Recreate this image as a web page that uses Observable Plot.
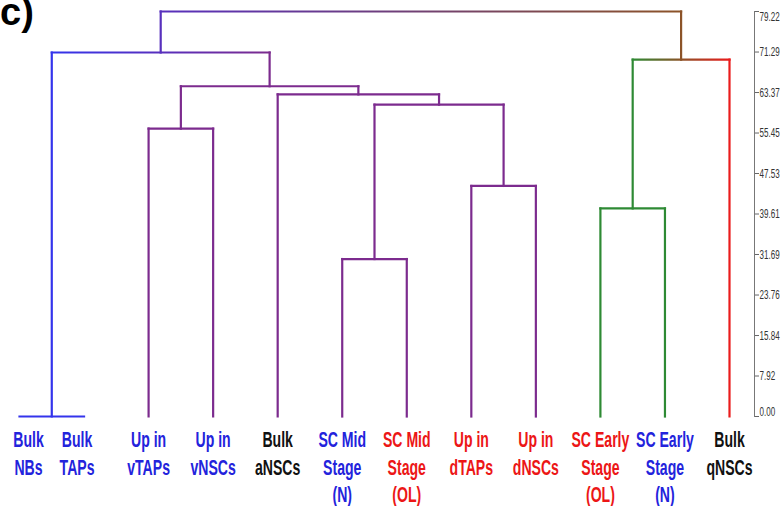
<!DOCTYPE html>
<html><head><meta charset="utf-8">
<script src="https://cdn.jsdelivr.net/npm/d3@7"></script>
<script src="https://cdn.jsdelivr.net/npm/@observablehq/plot@0.6"></script>
<style>
body{margin:0;background:#fff;}
#wrap{position:relative;width:781px;height:506px;overflow:hidden;}
#tag{position:absolute;left:0px;top:-7px;font:bold 38px "Liberation Sans", Arial, sans-serif;line-height:38px;color:#000;}
</style></head><body><div id="wrap"><div id="tag">c)</div></div>
<script>
// ---- data ----
const leafNames = ["Bulk\nNBs","Bulk\nTAPs","Up in\nvTAPs","Up in\nvNSCs","Bulk\naNSCs","SC Mid\nStage\n(N)","SC Mid\nStage\n(OL)","Up in\ndTAPs","Up in\ndNSCs","SC Early\nStage\n(OL)","SC Early\nStage\n(N)","Bulk\nqNSCs"];
const labelGroup = ["N","N","N","N","bulk","N","OL","OL","OL","OL","N","bulk"];
const leafCluster = ["blue","blue","purple","purple","purple","purple","purple","purple","purple","green","green","red"];
// merges: [childA, childB, height]; new nodes numbered from 12 upward
const merges = [[0,1,0],[2,3,56.3],[5,6,30.8],[7,8,45.1],[9,10,40.7],[14,15,61.0],[4,17,63.0],[13,18,64.6],[12,19,71.2],[16,11,69.8],[20,21,79.22]];
const tickValues = [0,7.92,15.84,23.76,31.69,39.61,47.53,55.45,63.37,71.29,79.22];

// ---- styles ----
const clusterColor = {blue:"#3434ec", purple:"#7c2b8e", green:"#2e8a34", red:"#ea1c1c"};
const labelColor = {N:"#2323dc", OL:"#ec1616", bulk:"#111111"};
const FONT = '"Liberation Sans", Arial, sans-serif';

// ---- build dendrogram links ----
const nodes = leafNames.map((_, i) => ({x: i, h: 0, color: clusterColor[leafCluster[i]]}));
const links = [], grads = [];
merges.forEach(([a, b, h]) => {
  const A = nodes[a], B = nodes[b];
  const same = A.color === B.color;
  const color = same ? A.color : d3.interpolateRgb(A.color, B.color)(0.5);
  for (const C of [A, B]) if (h > C.h) links.push({x1: C.x, x2: C.x, y1: C.h, y2: h, stroke: C.color});
  let stroke = A.color;
  if (!same) {
    const id = "grad" + grads.length;
    grads.push({id, x1: A.x, x2: B.x, c1: A.color, c2: B.color});
    stroke = `url(#${id})`;
  }
  links.push({x1: A.x, x2: B.x, y1: h, y2: h, stroke});
  nodes.push({x: (A.x + B.x) / 2, h, color});
});

const leafIdx = leafNames.map((_, i) => i);
const labelMark = (idx, dx) => Plot.text(idx, {
  x: i => i, text: i => leafNames[i], fill: i => labelColor[labelGroup[i]],
  frameAnchor: "bottom", lineAnchor: "top", dy: 11, dx, lineHeight: 1.25,
  fontSize: 22, fontWeight: "bold", fontFamily: FONT, textAnchor: "middle"
});
const tickText = (vals, dy) => Plot.text(vals, {
  y: d => d, text: d => d.toFixed(2), frameAnchor: "right", dx: 5, dy,
  textAnchor: "start", fontSize: 13, fill: "#333", fontFamily: FONT
});

const plot = Plot.plot({
  width: 781, height: 506,
  marginTop: 11, marginBottom: 90, marginLeft: 0, marginRight: 27,
  x: {domain: [0, 11], range: [19, 729], axis: null},
  y: {domain: [0, 79.22], axis: null, label: null},
  color: {type: "identity"},
  style: {background: "transparent", overflow: "visible"},
  marks: [
    Plot.frame({anchor: "right", stroke: "#777"}),
    Plot.axisY(tickValues, {anchor: "right", tickSize: 4, tickFormat: () => "", stroke: "#666", label: null}),
    tickText(tickValues.slice(1, -1), 0),
    tickText(tickValues.slice(-1), 5),
    tickText(tickValues.slice(0, 1), -5),
    Plot.link(links, {x1: "x1", x2: "x2", y1: "y1", y2: "y2", stroke: d => d.stroke, strokeWidth: 2.2, strokeLinecap: "square"}),
    labelMark(leafIdx.slice(2), 0),
    labelMark([0], 9),
    labelMark([1], -7)
  ]
});

// gradients for mixed-colour horizontal links
const sx = plot.scale("x");
const px = v => sx.apply ? sx.apply(v) : sx.range[0] + (v - sx.domain[0]) / (sx.domain[1] - sx.domain[0]) * (sx.range[1] - sx.range[0]);
const ns = "http://www.w3.org/2000/svg";
const defs = document.createElementNS(ns, "defs");
for (const g of grads) {
  const lg = document.createElementNS(ns, "linearGradient");
  lg.setAttribute("id", g.id);
  lg.setAttribute("gradientUnits", "userSpaceOnUse");
  lg.setAttribute("x1", px(g.x1)); lg.setAttribute("x2", px(g.x2));
  lg.setAttribute("y1", 0); lg.setAttribute("y2", 0);
  [[0, g.c1], [1, g.c2]].forEach(([o, c]) => {
    const s = document.createElementNS(ns, "stop");
    s.setAttribute("offset", o); s.setAttribute("stop-color", c);
    lg.appendChild(s);
  });
  defs.appendChild(lg);
}
plot.insertBefore(defs, plot.firstChild);

// condensed lettering (squeeze texts horizontally around their anchor)
const leafSet = new Set(leafNames.map(s => s.replace(/\n/g, "")));
const tickSet = new Set(tickValues.map(d => d.toFixed(2)));
plot.querySelectorAll("text").forEach(t => {
  const c = t.textContent;
  const s = leafSet.has(c) ? 0.64 : tickSet.has(c) ? 0.62 : null;
  if (s == null) return;
  const tr = t.getAttribute("transform");
  if (tr && tr.includes("translate")) t.setAttribute("transform", tr + ` scale(${s},1)`);
  else {
    const x = +t.getAttribute("x") || 0;
    t.setAttribute("transform", `translate(${x * (1 - s)},0) scale(${s},1)`);
  }
});

plot.style.position = "absolute"; plot.style.left = "0"; plot.style.top = "0";
document.getElementById("wrap").insertBefore(plot, document.getElementById("tag"));
</script>
</body></html>
